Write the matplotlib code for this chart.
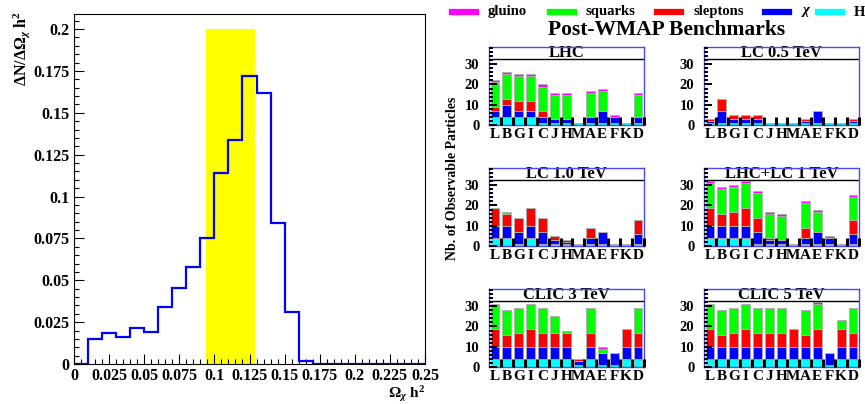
import matplotlib
matplotlib.use('Agg')
import matplotlib.pyplot as plt
import numpy as np
from matplotlib.ticker import MultipleLocator, FixedLocator

plt.rcParams['font.family'] = ['Liberation Serif', 'DejaVu Serif']
plt.rcParams['font.weight'] = 'bold'
plt.rcParams['mathtext.fontset'] = 'custom'
plt.rcParams['mathtext.rm'] = 'Liberation Serif:bold'
plt.rcParams['mathtext.it'] = 'Liberation Serif:italic:bold'
plt.rcParams['mathtext.bf'] = 'Liberation Serif:bold'

# left histogram: relic density distribution
omega_edges = np.arange(0.0, 0.2501, 0.01)
omega_counts = [0.0, 0.015, 0.0185, 0.0163, 0.0217, 0.0193, 0.034, 0.0455, 0.058,
                0.075, 0.114, 0.1335, 0.172, 0.162, 0.084, 0.031, 0.0015, 0.0,
                0.0, 0.0, 0.0, 0.0, 0.0, 0.0, 0.0]
wmap_lo, wmap_hi = 0.094, 0.129

# benchmark points
points = ['L', 'B', 'G', 'I', 'C', 'J', 'H', 'M', 'A', 'E', 'F', 'K', 'D']
species = ['H', 'chi', 'sleptons', 'squarks', 'gluino']
species_labels = {'gluino': 'gluino', 'squarks': 'squarks', 'sleptons': 'sleptons',
                  'chi': r'$\chi$', 'H': 'H'}
species_colors = {'H': '#00ffff', 'chi': '#0000ff', 'sleptons': '#ff0000',
                  'squarks': '#00ff00', 'gluino': '#ff00ff'}

# counts per point: H, chi, sleptons, squarks, gluino
lhc = [[4, 4, 4, 4, 1, 1, 1, 1, 1, 1, 1, 1, 1],
       [3, 6, 3, 3, 3, 2, 2, 0, 3, 6, 3, 0, 3],
       [2, 3, 5, 5, 3, 0, 0, 0, 0, 0, 0, 0, 0],
       [12, 12, 12, 12, 12, 12, 12, 0, 12, 10, 0, 0, 11],
       [1, 1, 1, 1, 1, 1, 1, 0, 1, 1, 1, 0, 1]]
lc05 = [[1, 1, 1, 1, 1, 1, 1, 1, 1, 1, 1, 1, 1],
        [1, 6, 2, 2, 2, 0, 0, 0, 1, 6, 0, 0, 1],
        [1, 6, 2, 2, 2, 0, 0, 0, 1, 0, 0, 0, 1],
        [0, 0, 0, 0, 0, 0, 0, 0, 0, 0, 0, 0, 0],
        [0, 0, 0, 0, 0, 0, 0, 0, 0, 0, 0, 0, 0]]
lc10 = [[4, 4, 1, 4, 1, 1, 1, 1, 1, 1, 1, 1, 1],
        [6, 6, 6, 6, 6, 2, 1, 0, 3, 6, 0, 0, 5],
        [9, 6, 7, 9, 7, 2, 1, 0, 5, 0, 0, 0, 7],
        [0, 1, 0, 0, 0, 0, 0, 0, 0, 0, 0, 0, 0],
        [0, 0, 0, 0, 0, 0, 0, 0, 0, 0, 0, 0, 0]]
lhc_lc1 = [[4, 4, 4, 4, 1, 1, 1, 1, 1, 1, 1, 1, 1],
           [6, 6, 6, 6, 6, 2, 2, 0, 3, 6, 3, 0, 5],
           [9, 6, 7, 9, 7, 1, 0, 0, 5, 0, 0, 0, 7],
           [12, 12, 12, 12, 12, 12, 12, 0, 12, 10, 0, 0, 11],
           [1, 1, 1, 1, 1, 1, 1, 0, 1, 1, 1, 0, 1]]
clic3 = [[4, 4, 4, 4, 4, 4, 4, 1, 4, 1, 1, 4, 4],
         [6, 6, 6, 6, 6, 6, 6, 2, 6, 6, 6, 6, 6],
         [9, 6, 7, 9, 7, 7, 7, 1, 7, 0, 0, 9, 7],
         [12, 12, 12, 12, 12, 8, 1, 0, 12, 2, 0, 0, 12],
         [0, 0, 0, 0, 0, 0, 0, 0, 0, 1, 0, 0, 0]]
clic5 = [[4, 4, 4, 4, 4, 4, 4, 4, 4, 4, 1, 4, 4],
         [6, 6, 6, 6, 6, 6, 6, 6, 6, 6, 6, 6, 6],
         [9, 6, 7, 9, 7, 7, 7, 9, 6, 9, 0, 9, 7],
         [12, 12, 12, 12, 12, 12, 12, 0, 12, 12, 0, 4, 12],
         [0, 0, 0, 0, 0, 0, 0, 0, 0, 1, 0, 0, 0]]

panels = [('LHC', lhc), ('LC 0.5 TeV', lc05), ('LC 1.0 TeV', lc10),
          ('LHC+LC 1 TeV', lhc_lc1), ('CLIC 3 TeV', clic3), ('CLIC 5 TeV', clic5)]

W, H = 865, 404
fig = plt.figure(figsize=(W / 100, H / 100), dpi=100)


def trim(v, p):
    return ('%.3f' % v).rstrip('0').rstrip('.')


# ---------- left histogram ----------
ax = fig.add_axes([74 / W, 1 - 364 / H, 351 / W, 350 / H])
ax.axvspan(wmap_lo, wmap_hi, ymin=0, ymax=0.2 / 0.209, color='#ffff00', lw=0, zorder=1)
ax.stairs(omega_counts, omega_edges, color='#0000ff', lw=1.6, zorder=2)
ax.set_xlim(0, 0.25)
ax.set_ylim(0, 0.209)
ax.xaxis.set_major_locator(MultipleLocator(0.025))
ax.xaxis.set_minor_locator(MultipleLocator(0.005))
ax.yaxis.set_major_locator(MultipleLocator(0.025))
ax.yaxis.set_minor_locator(MultipleLocator(0.005))
ax.xaxis.set_major_formatter(plt.FuncFormatter(trim))
ax.yaxis.set_major_formatter(plt.FuncFormatter(trim))
ax.tick_params(which='both', direction='in', top=False, right=False, labelsize=11.5)
ax.tick_params(which='major', length=7, width=0.8)
ax.tick_params(which='minor', length=3.5, width=0.8)
ax.tick_params(axis='x', pad=3)
for sp in ax.spines.values():
    sp.set_linewidth(0.8)
fig.text(22 / W, 1 - 49 / H, r'$\Delta$N/$\Delta\Omega_{\chi}$ h$^{2}$', rotation=90,
         ha='center', va='center', fontsize=11.5, fontweight='bold')
fig.text(425 / W, 0.5 / H, r'$\Omega_{\chi}$ h$^{2}$', ha='right', va='bottom',
         fontsize=11, fontweight='bold')

# ---------- right: benchmark panels ----------
lefts = [489, 704]
tops = [47, 168, 289]
pw, ph = 155, 78
x = np.arange(len(points))
for k, (title, counts) in enumerate(panels):
    r, c = divmod(k, 2)
    a = fig.add_axes([lefts[c] / W, 1 - (tops[r] + ph) / H, pw / W, ph / H])
    bottom = np.zeros(len(points))
    for s, vals in zip(species, counts):
        vals = np.array(vals, dtype=float)
        a.bar(x, vals, width=0.74, bottom=bottom, color=species_colors[s],
              edgecolor='#b0b0b0', linewidth=0.6, zorder=2)
        bottom += vals
    a.set_xlim(-0.5, 12.5)
    a.set_ylim(0, 38.5)
    a.axhspan(32.5, 38.5, color='white', zorder=4)
    a.axhline(32.5, color='black', lw=1.0, zorder=5)
    a.text(6, 35.4, title, ha='center', va='center', fontsize=12,
           fontweight='bold', zorder=6)
    a.set_xticks(x)
    a.set_xticklabels(points, fontsize=11, fontweight='bold')
    a.xaxis.set_minor_locator(FixedLocator(np.arange(0.5, 12.6, 1.0)))
    a.tick_params(axis='x', which='major', length=0, pad=2)
    a.tick_params(axis='x', which='minor', direction='in', length=6, width=2.2,
                  color='black', bottom=True)
    a.yaxis.set_major_locator(FixedLocator([0, 10, 20, 30]))
    a.yaxis.set_minor_locator(MultipleLocator(2))
    a.tick_params(axis='y', which='both', direction='in', color='black', labelsize=10.5)
    a.tick_params(axis='y', which='major', length=6, width=1.4, pad=7)
    a.tick_params(axis='y', which='minor', length=3, width=1.4)
    a.xaxis.set_zorder(8)
    a.yaxis.set_zorder(8)
    for sp in a.spines.values():
        sp.set_color('#4848ff')
        sp.set_linewidth(1.0)
        sp.set_zorder(7)

# legend row
legend_x = [452, 550, 657, 765, 818]
for s, lx in zip(['gluino', 'squarks', 'sleptons', 'chi', 'H'], legend_x):
    fig.add_artist(plt.Line2D([lx / W, (lx + 24) / W], [1 - 12 / H, 1 - 12 / H],
                              color=species_colors[s], lw=4.5, transform=fig.transFigure))
    fig.text((lx + 36) / W, 1 - 12 / H, species_labels[s], ha='left', va='center',
             fontsize=10.5, fontweight='bold')
fig.text(667 / W, 1 - 30 / H, 'Post-WMAP Benchmarks', ha='center', va='center',
         fontsize=15.5, fontweight='bold')
fig.text(453 / W, 1 - 178 / H, 'Nb. of Observable Particles', rotation=90,
         ha='center', va='center', fontsize=10, fontweight='bold')

fig.savefig('out.png', dpi=100)
